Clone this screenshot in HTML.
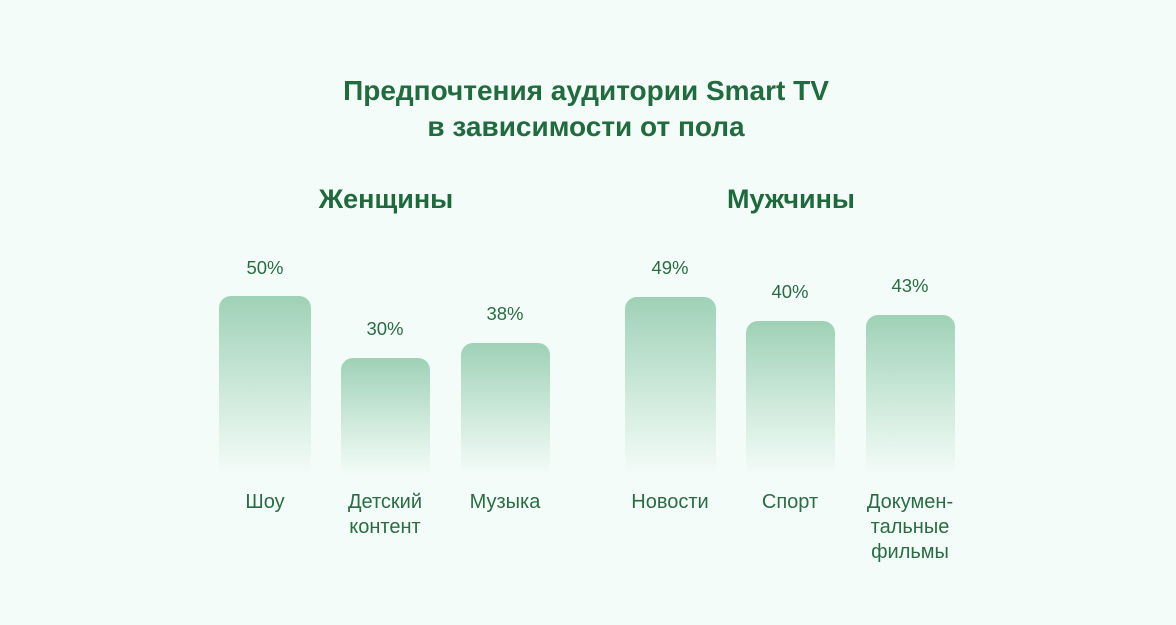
<!DOCTYPE html><html><head><meta charset="utf-8"><style>
body{margin:0;width:1176px;height:625px;background:#f4fcf9;font-family:"Liberation Sans",sans-serif;color:#216b3f;position:relative;overflow:hidden}
.t{position:absolute;white-space:nowrap;text-align:center;transform:translateX(-50%)}
.h{font-weight:bold;font-size:28px;line-height:36px}
.s{font-size:27px;font-weight:bold;color:#1f6a3d}
.v{font-size:18.5px;color:#2a6d44}
.c{font-size:20px;line-height:25px;color:#2a6d44}
.b{position:absolute;border-radius:12px 12px 0 0;background:linear-gradient(#9fd1b6,#cfeadc 55%,#f4fcf9)}
</style></head><body>
<div class="t h" style="left:586px;top:73px">Предпочтения аудитории Smart TV<br>в зависимости от пола</div>
<div class="t s" style="left:386px;top:184px">Женщины</div>
<div class="t s" style="left:791px;top:184px">Мужчины</div>
<div class="b" style="left:219px;top:296px;width:92px;height:180px"></div>
<div class="b" style="left:341px;top:358px;width:89px;height:118px"></div>
<div class="b" style="left:461px;top:343px;width:89px;height:133px"></div>
<div class="b" style="left:625px;top:297px;width:91px;height:179px"></div>
<div class="b" style="left:746px;top:321px;width:89px;height:155px"></div>
<div class="b" style="left:866px;top:315px;width:89px;height:161px"></div>
<div class="t v" style="left:265px;top:257px">50%</div>
<div class="t v" style="left:385px;top:318px">30%</div>
<div class="t v" style="left:505px;top:303px">38%</div>
<div class="t v" style="left:670px;top:257px">49%</div>
<div class="t v" style="left:790px;top:281px">40%</div>
<div class="t v" style="left:910px;top:275px">43%</div>
<div class="t c" style="left:265px;top:490px">Шоу</div>
<div class="t c" style="left:385px;top:490px">Детский<br>контент</div>
<div class="t c" style="left:505px;top:490px">Музыка</div>
<div class="t c" style="left:670px;top:490px">Новости</div>
<div class="t c" style="left:790px;top:490px">Спорт</div>
<div class="t c" style="left:910px;top:490px">Докумен-<br>тальные<br>фильмы</div>
</body></html>
